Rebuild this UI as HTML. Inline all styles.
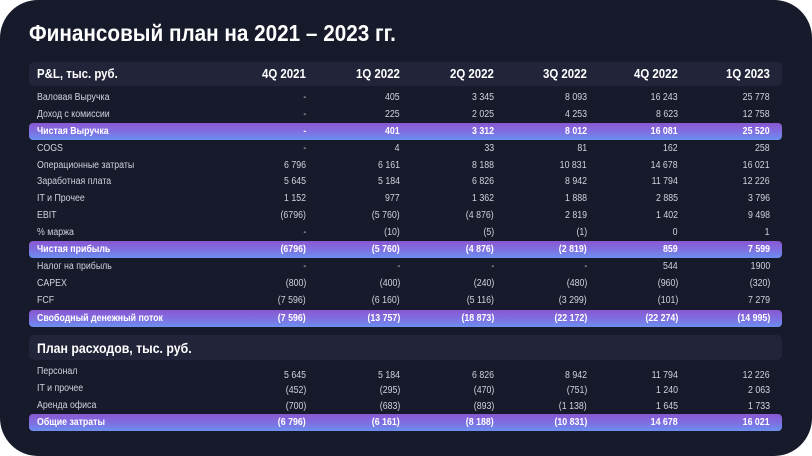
<!DOCTYPE html>
<html><head><meta charset="utf-8">
<style>
html,body{margin:0;padding:0;background:#fff;}
#card{position:relative;width:812px;height:456px;background:#161a2b;border-radius:38px;overflow:hidden;font-family:"Liberation Sans Narrow","Liberation Sans",sans-serif;color:#d8dae3;}
.t{position:absolute;white-space:nowrap;}
.hl{position:absolute;left:29px;width:753px;border-radius:4px;background:linear-gradient(to bottom,#8a58d2 0%,#7f6ee0 50%,#6a90f0 100%);}
.hd{position:absolute;left:29px;width:753px;background:#22253a;border-radius:5px;}
</style></head><body>
<div id="card">
<div class="t" style="left:29px;top:20px;font-size:23px;font-weight:bold;color:#fff;transform:scaleX(0.9);transform-origin:left;">Финансовый план на 2021 – 2023 гг.</div>
</div>
<script>
const columns=["4Q 2021","1Q 2022","2Q 2022","3Q 2022","4Q 2022","1Q 2023"];
const rowLabels=["Валовая Выручка","Доход с комиссии","Чистая Выручка","COGS","Операционные затраты","Заработная плата","IT и Прочее","EBIT","% маржа","Чистая прибыль","Налог на прибыль","CAPEX","FCF","Свободный денежный поток"];
const rowValues=[
["-","405","3 345","8 093","16 243","25 778"],
["-","225","2 025","4 253","8 623","12 758"],
["-","401","3 312","8 012","16 081","25 520"],
["-","4","33","81","162","258"],
["6 796","6 161","8 188","10 831","14 678","16 021"],
["5 645","5 184","6 826","8 942","11 794","12 226"],
["1 152","977","1 362","1 888","2 885","3 796"],
["(6796)","(5 760)","(4 876)","2 819","1 402","9 498"],
["-","(10)","(5)","(1)","0","1"],
["(6796)","(5 760)","(4 876)","(2 819)","859","7 599"],
["-","-","-","-","544","1900"],
["(800)","(400)","(240)","(480)","(960)","(320)"],
["(7 596)","(6 160)","(5 116)","(3 299)","(101)","7 279"],
["(7 596)","(13 757)","(18 873)","(22 172)","(22 274)","(14 995)"]];
const rowHighlight=[false,false,true,false,false,false,false,false,false,true,false,false,false,true];
const costLabels=["Персонал","IT и прочее","Аренда офиса","Общие затраты"];
const costValues=[
["5 645","5 184","6 826","8 942","11 794","12 226"],
["(452)","(295)","(470)","(751)","1 240","2 063"],
["(700)","(683)","(893)","(1 138)","1 645","1 733"],
["(6 796)","(6 161)","(8 188)","(10 831)","14 678","16 021"]];
const costHighlight=[false,false,false,true];

const card=document.getElementById('card');
const colRight=[306,400,494,587,678,770];
function txt(s,x,y,size,bold,color,right,name){
  const d=document.createElement('div');d.className='t';d.textContent=s;
  
  
  d.style.top=(y-size*0.6+1)+'px';d.style.fontSize=size+'px';
  if(bold)d.style.fontWeight='bold';d.style.color=color;
  d.style.transform='scaleX(0.88)';
  if(right){d.style.right=(812-x)+'px';d.style.transformOrigin='right';}else{d.style.left=x+'px';d.style.transformOrigin='left';}
  card.appendChild(d);return d;
}
function block(cls,top,h,name){
  const b=document.createElement('div');b.className=cls;b.style.top=top+'px';b.style.height=h+'px';
  
  
  card.appendChild(b);
}
block('hd',62,24,'pl-header-row');
txt('P&L, тыс. руб.',37,73,13,true,'#fff',false,'pl-header-label');
columns.forEach((c,i)=>txt(c,colRight[i],73,13,true,'#fff',true,'column-header'));
const rowY=[97,114,131,148,165,181,198,215,232,249,266,283,300,318];
rowLabels.forEach((l,r)=>{
  const y=rowY[r],h=rowHighlight[r];
  if(h)block('hl',y-8,17,'highlight-row');
  txt(l,37,y,10,h,h?'#fff':'#d0d3dc',false,'row-label');
  rowValues[r].forEach((v,i)=>txt(v,colRight[i],y,10,h,h?'#fff':'#d0d3dc',true,'row-value'));
});
block('hd',335,25,'cost-header-row');
txt('План расходов, тыс. руб.',37,347,14,true,'#fff',false,'cost-header-label');
const costY=[371,388,405,422];
const costValY=[375,390,406,422];
costLabels.forEach((l,r)=>{
  const h=costHighlight[r];
  if(h)block('hl',costY[r]-8,17,'highlight-row');
  txt(l,37,costY[r],10,h,h?'#fff':'#d0d3dc',false,'cost-label');
  costValues[r].forEach((v,i)=>txt(v,colRight[i],costValY[r],10,h,h?'#fff':'#d0d3dc',true,'cost-value'));
});
</script>
</body></html>
